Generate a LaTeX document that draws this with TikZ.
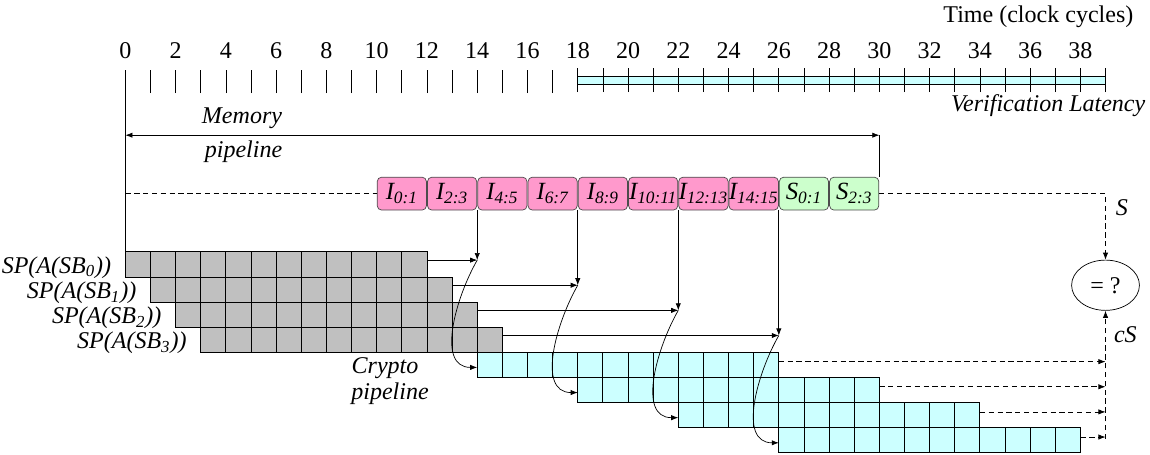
\documentclass[tikz,border=0pt]{standalone}
\usepackage{fontspec}
\setmainfont{Liberation Serif}
\usetikzlibrary{arrows.meta,shapes.geometric}
\definecolor{cellgray}{HTML}{C0C0C0}
\definecolor{cellcyan}{HTML}{CCFFFF}
\definecolor{instpink}{HTML}{FF99CC}
\definecolor{sumgreen}{HTML}{CCFFCC}
\newcommand{\slbl}[2]{\textit{#1\textsubscript{#2}}}
\begin{document}
\begin{tikzpicture}[x=5mm,y=5mm,
  every node/.style={font=\fontsize{13.6}{16}\selectfont},
  tip/.style={-{Latex[length=4pt,width=3pt]}},
  dsh/.style={dash pattern=on 3pt off 2pt},
  memblk/.style={draw=black!70,rounded corners=2.5pt,minimum width=0.98cm,minimum height=0.655cm,inner sep=0pt,font=\fontsize{14}{17}\selectfont},
  cell/.style={draw,line width=0.5pt}]
\useasboundingbox (-4.99,-8.05) rectangle (40.77,10.02);
% time axis
\node (tm) at (36.33,9.34) {Time (clock cycles)};
\foreach \t in {0,2,...,38}
  \node (n\t) at (\t,7.99) {\t};
\foreach \t in {1,...,17}
  \draw (\t,6.31) -- (\t,7.23);
\draw (0,7.23) -- (0,0);
\draw[fill=cellcyan] (18,6.67) rectangle (39,6.99);
\foreach \t in {18,...,39}
  \draw (\t,6.35) -- (\t,7.31);
\node (vl) at (36.72,5.82) {\textit{Verification Latency}};
% memory pipeline
\coordinate (ms) at (0,4.64);
\coordinate (me) at (30,4.64);
\draw[{Latex[length=4pt,width=3pt]}-{Latex[length=4pt,width=3pt]}] (ms) -- (me);
\node (mm) at (4.64,5.32) {\textit{Memory}};
\node (mp) at (4.7,3.98) {\textit{pipeline}};
\foreach \i [evaluate=\i as \a using int(2*\i), evaluate=\i as \b using int(2*\i+1)] in {0,...,7}
  \node[memblk,fill=instpink] (m\i) at ({11+2*\i},2.315) {\slbl{I}{\a:\b}};
\node[memblk,fill=sumgreen] (m8) at (27,2.315) {\slbl{S}{0:1}};
\node[memblk,fill=sumgreen] (m9) at (29,2.315) {\slbl{S}{2:3}};
\draw (me) -- (me |- m9.north);
\draw[dsh] (0,2.315) -- (m0.west);
% comparison
\node[draw,ellipse,minimum width=1.35cm,minimum height=1cm,inner sep=0pt] (cmp) at (39,-1.33) {= ?};
\draw[dsh,tip] (m9.east) -| (cmp.north);
\draw[dsh,tip] (39,-7.45) -- (cmp.south);
\node (sl) at (39.65,1.75) {\textit{S}};
\node (csl) at (39.79,-3.31) {\textit{cS}};
% crypto pipeline
\foreach \k in {0,...,3}{
  \foreach \j in {0,...,11}
    \draw[cell,fill=cellgray] ({\k+\j},-\k) rectangle ++(1,-1);
  \node[anchor=east] (sp\k) at ({\k-0.32},{-\k-0.62}) {\textit{SP(A(SB\textsubscript{\k}))}};
}
\foreach \k in {0,...,3}
  \foreach \j in {0,...,11}
    \draw[cell,fill=cellcyan] ({14+4*\k+\j},{-4-\k}) rectangle ++(1,-1);
\node (cr) at (10.33,-4.64) {\textit{Crypto}};
\node (cp) at (10.53,-5.63) {\textit{pipeline}};
\foreach \k [evaluate=\k as \n using int(2+2*\k)] in {0,...,3}{
  \coordinate (g\k) at ({12+\k},{-\k-0.33});
  \coordinate (j\k) at ({14+4*\k},{-\k-0.33});
  \coordinate (c\k) at ({14+4*\k},{-4.6-\k});
  \coordinate (e\k) at ({26+4*\k},{-4.37-\k});
  \coordinate (f\k) at (39,{-4.37-\k});
  \draw[tip] (j\k |- m\n.south) -- (j\k);
  \draw[tip] (g\k) -- (j\k);
  \draw[tip] (j\k) to[out=240,in=180] (c\k);
  \draw[dsh,tip] (e\k) -- (f\k);
}
\end{tikzpicture}
\end{document}
